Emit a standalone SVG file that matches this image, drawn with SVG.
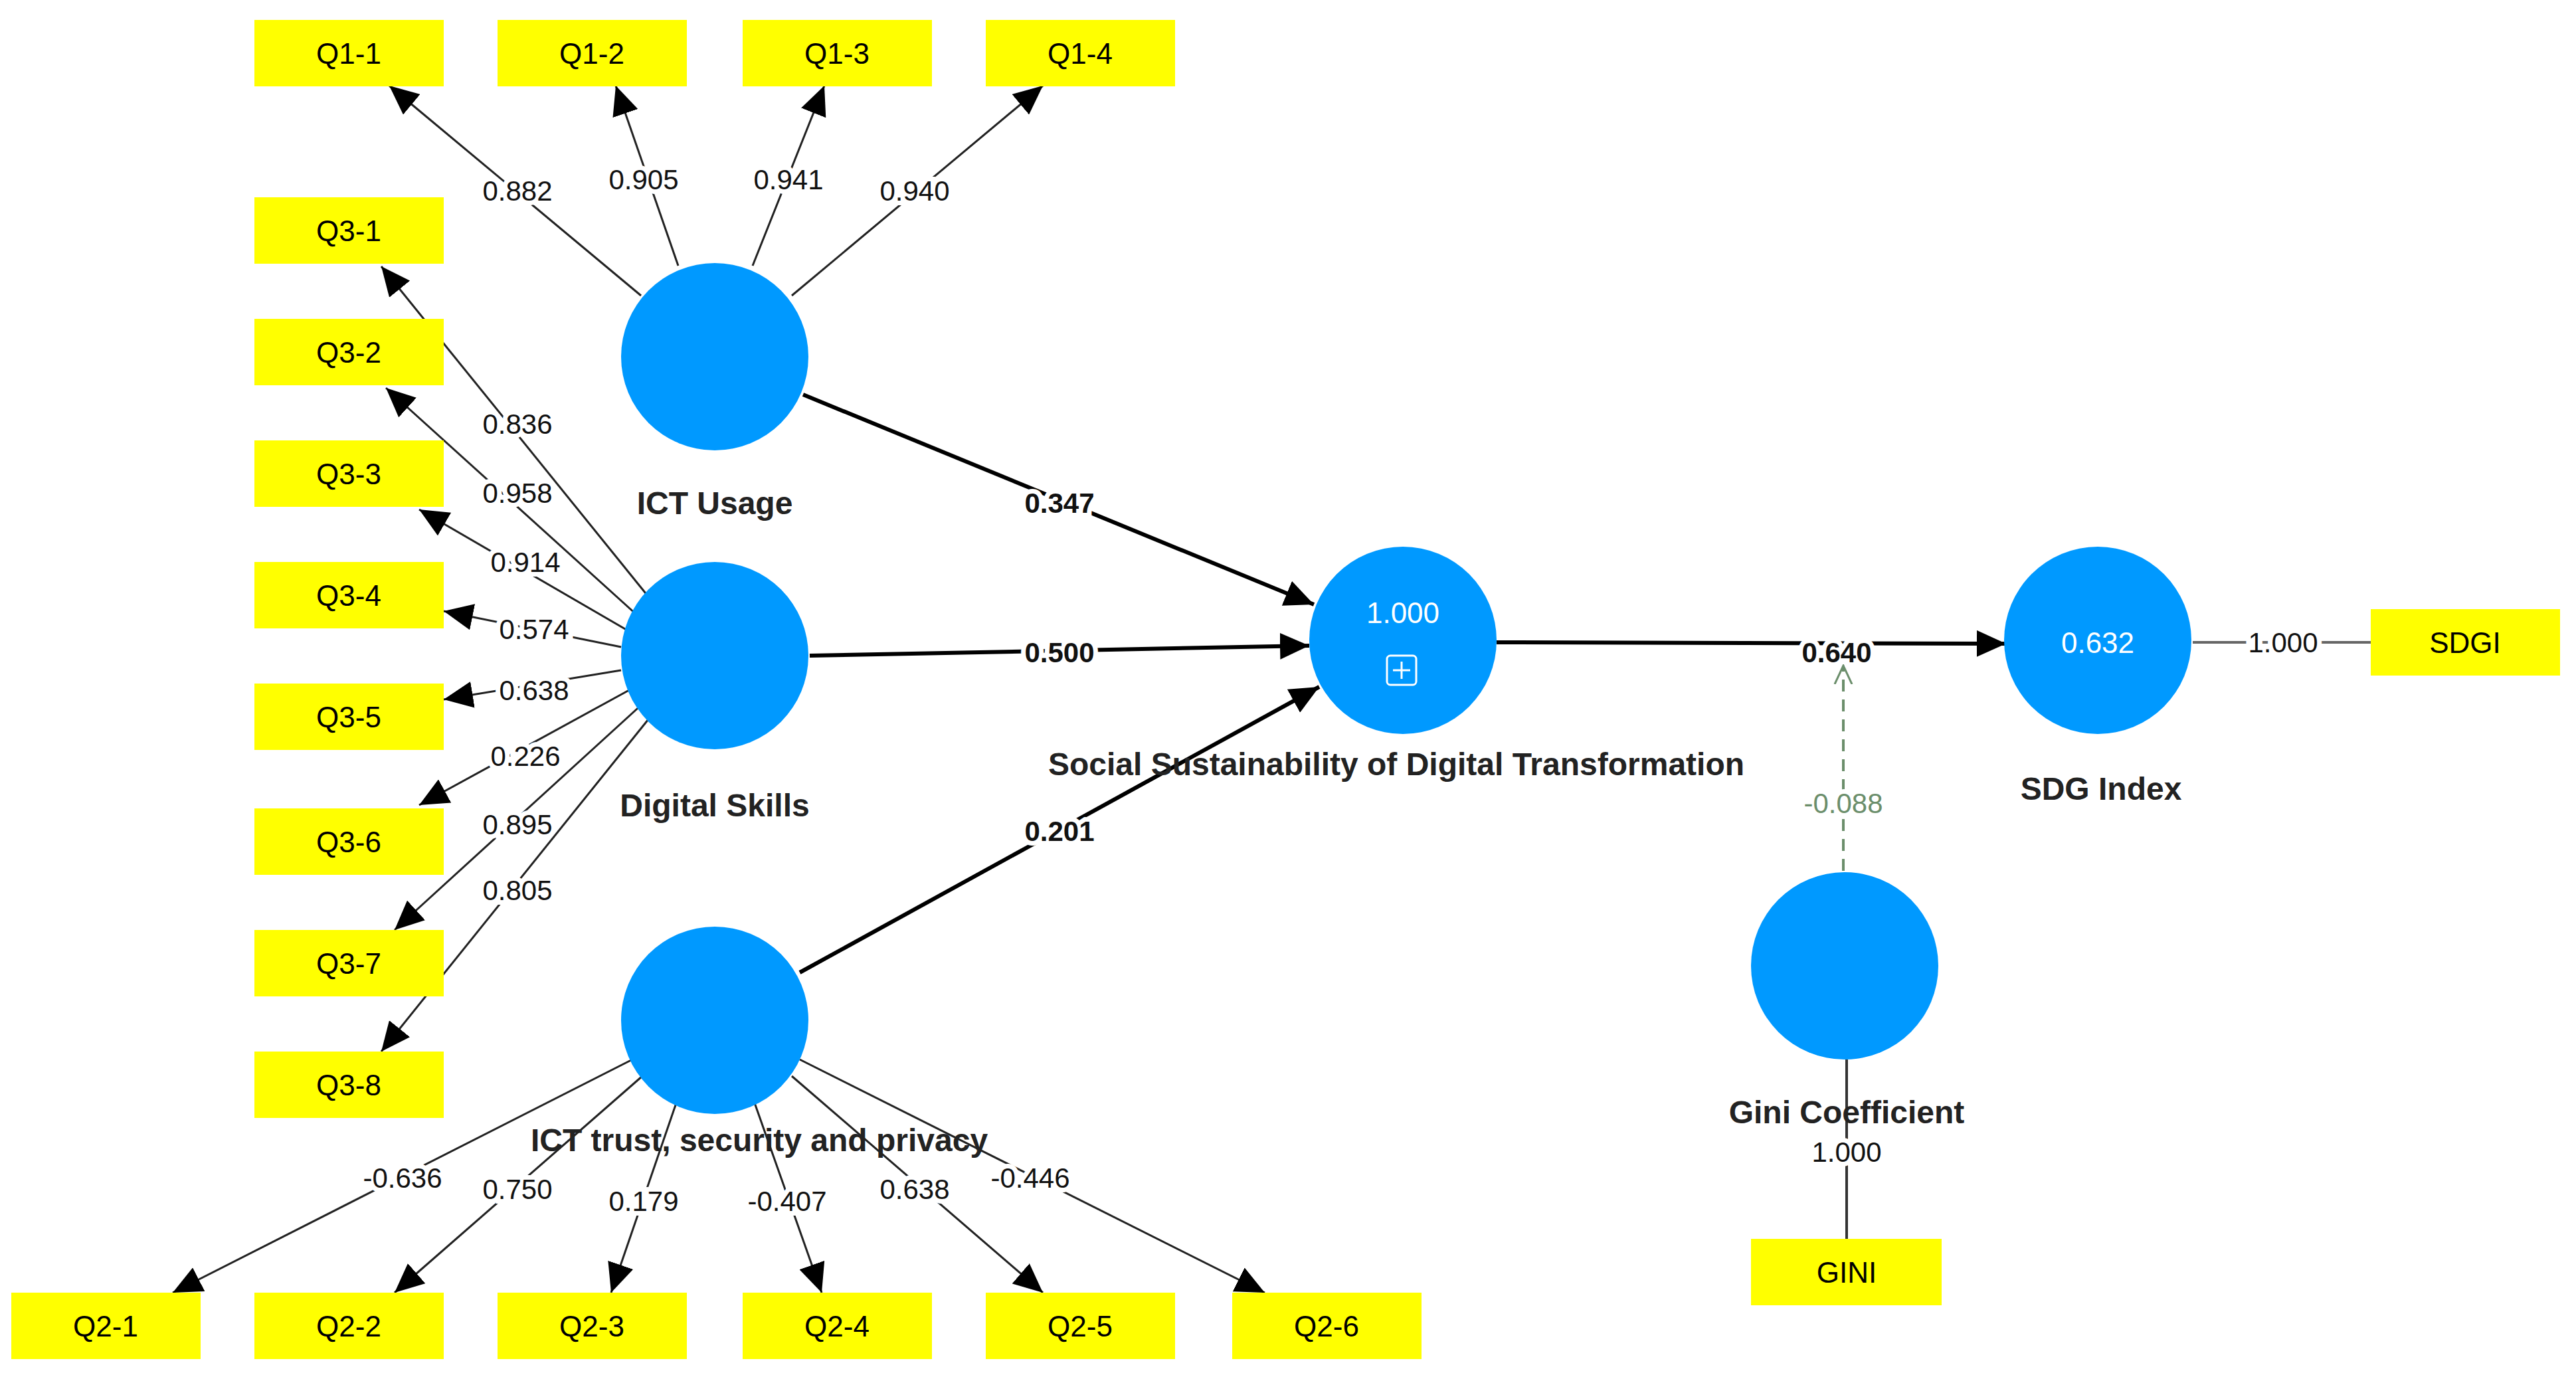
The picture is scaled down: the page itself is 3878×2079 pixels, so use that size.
<svg xmlns="http://www.w3.org/2000/svg" width="3878" height="2079" viewBox="0 0 3878 2079">
<style>
.box{fill:#ffff00}
.bt{font-family:"Liberation Sans",Arial,sans-serif;font-size:44px;fill:#000;text-anchor:middle;dominant-baseline:central}
.lv{fill:#0099ff}
.ln{font-family:"Liberation Sans",Arial,sans-serif;font-size:48px;font-weight:bold;fill:#222;text-anchor:middle;dominant-baseline:central}
.ld{stroke:#222;stroke-width:3;fill:none}
.st{stroke:#000;stroke-width:6;fill:none}
.lb{font-family:"Liberation Sans",Arial,sans-serif;font-size:42px;fill:#111;text-anchor:middle;dominant-baseline:central;paint-order:stroke;stroke:#fff;stroke-width:14}
.sb{font-weight:bold}
</style>
<defs>
<marker id="a" markerUnits="userSpaceOnUse" markerWidth="44" markerHeight="40" refX="44" refY="20" orient="auto"><path d="M0,0 L44,20 L0,40 Z" fill="#000"/></marker>
<marker id="o" markerUnits="userSpaceOnUse" markerWidth="30" markerHeight="30" refX="28" refY="15" orient="auto"><path d="M0,2 L28,15 L0,28" fill="none" stroke="#6b8e6b" stroke-width="3"/></marker>
</defs>
<rect width="3878" height="2079" fill="#fff"/>
<g id="connectors">
<line class="ld" x1="965" y1="445" x2="586" y2="129" marker-end="url(#a)"/>
<line class="ld" x1="1021" y1="400" x2="927" y2="129" marker-end="url(#a)"/>
<line class="ld" x1="1133" y1="400" x2="1241" y2="129" marker-end="url(#a)"/>
<line class="ld" x1="1192" y1="445" x2="1570" y2="129" marker-end="url(#a)"/>
<line class="ld" x1="984" y1="908" x2="574" y2="401" marker-end="url(#a)"/>
<line class="ld" x1="969" y1="935" x2="581" y2="584" marker-end="url(#a)"/>
<line class="ld" x1="955" y1="955" x2="631" y2="767" marker-end="url(#a)"/>
<line class="ld" x1="935" y1="974" x2="668" y2="920" marker-end="url(#a)"/>
<line class="ld" x1="935" y1="1009" x2="668" y2="1053" marker-end="url(#a)"/>
<line class="ld" x1="947" y1="1039" x2="631" y2="1212" marker-end="url(#a)"/>
<line class="ld" x1="969" y1="1058" x2="594" y2="1400" marker-end="url(#a)"/>
<line class="ld" x1="984" y1="1073" x2="574" y2="1583" marker-end="url(#a)"/>
<line class="ld" x1="952" y1="1595" x2="260" y2="1946" marker-end="url(#a)"/>
<line class="ld" x1="967" y1="1620" x2="594" y2="1946" marker-end="url(#a)"/>
<line class="ld" x1="1021" y1="1652" x2="920" y2="1946" marker-end="url(#a)"/>
<line class="ld" x1="1133" y1="1652" x2="1237" y2="1946" marker-end="url(#a)"/>
<line class="ld" x1="1192" y1="1620" x2="1570" y2="1946" marker-end="url(#a)"/>
<line class="ld" x1="1204" y1="1595" x2="1904" y2="1946" marker-end="url(#a)"/>
<line class="st" x1="1209" y1="594" x2="1978" y2="910" marker-end="url(#a)"/>
<line class="st" x1="1219" y1="987" x2="1971" y2="972" marker-end="url(#a)"/>
<line class="st" x1="1204" y1="1464" x2="1986" y2="1034" marker-end="url(#a)"/>
<line class="st" x1="2253" y1="967" x2="3020" y2="969" marker-end="url(#a)"/>
<line x1="2775" y1="1311" x2="2775" y2="1002" stroke="#6b8e6b" stroke-width="4" stroke-dasharray="18,12" marker-end="url(#o)"/>
<line x1="3301" y1="967" x2="3569" y2="967" stroke="#666" stroke-width="4"/>
<line x1="2780" y1="1595" x2="2780" y2="1865" stroke="#333" stroke-width="4"/>
<text class="lb" x="779" y="287">0.882</text>
<text class="lb" x="969" y="270">0.905</text>
<text class="lb" x="1187" y="270">0.941</text>
<text class="lb" x="1377" y="287">0.940</text>
<text class="lb" x="779" y="638">0.836</text>
<text class="lb" x="779" y="742">0.958</text>
<text class="lb" x="791" y="846">0.914</text>
<text class="lb" x="804" y="947">0.574</text>
<text class="lb" x="804" y="1039">0.638</text>
<text class="lb" x="791" y="1138">0.226</text>
<text class="lb" x="779" y="1241">0.895</text>
<text class="lb" x="779" y="1340">0.805</text>
<text class="lb" x="606" y="1773">-0.636</text>
<text class="lb" x="779" y="1790">0.750</text>
<text class="lb" x="969" y="1808">0.179</text>
<text class="lb" x="1185" y="1808">-0.407</text>
<text class="lb" x="1377" y="1790">0.638</text>
<text class="lb" x="1551" y="1773">-0.446</text>
<text class="lb sb" x="1595" y="757">0.347</text>
<text class="lb sb" x="1595" y="982">0.500</text>
<text class="lb sb" x="1595" y="1251">0.201</text>
<text class="lb sb" x="2765" y="982">0.640</text>
<text class="lb" x="2775" y="1209" style="fill:#6b8e6b">-0.088</text>
<text class="lb" x="3437" y="967">1.000</text>
<text class="lb" x="2780" y="1734">1.000</text>
</g>
<g id="Q1-1"><rect class="box" x="383" y="30" width="285" height="100"/><text class="bt" x="525" y="80">Q1-1</text></g>
<g id="Q1-2"><rect class="box" x="749" y="30" width="285" height="100"/><text class="bt" x="891" y="80">Q1-2</text></g>
<g id="Q1-3"><rect class="box" x="1118" y="30" width="285" height="100"/><text class="bt" x="1260" y="80">Q1-3</text></g>
<g id="Q1-4"><rect class="box" x="1484" y="30" width="285" height="100"/><text class="bt" x="1626" y="80">Q1-4</text></g>
<g id="Q3-1"><rect class="box" x="383" y="297" width="285" height="100"/><text class="bt" x="525" y="347">Q3-1</text></g>
<g id="Q3-2"><rect class="box" x="383" y="480" width="285" height="100"/><text class="bt" x="525" y="530">Q3-2</text></g>
<g id="Q3-3"><rect class="box" x="383" y="663" width="285" height="100"/><text class="bt" x="525" y="713">Q3-3</text></g>
<g id="Q3-4"><rect class="box" x="383" y="846" width="285" height="100"/><text class="bt" x="525" y="896">Q3-4</text></g>
<g id="Q3-5"><rect class="box" x="383" y="1029" width="285" height="100"/><text class="bt" x="525" y="1079">Q3-5</text></g>
<g id="Q3-6"><rect class="box" x="383" y="1217" width="285" height="100"/><text class="bt" x="525" y="1267">Q3-6</text></g>
<g id="Q3-7"><rect class="box" x="383" y="1400" width="285" height="100"/><text class="bt" x="525" y="1450">Q3-7</text></g>
<g id="Q3-8"><rect class="box" x="383" y="1583" width="285" height="100"/><text class="bt" x="525" y="1633">Q3-8</text></g>
<g id="Q2-1"><rect class="box" x="17" y="1946" width="285" height="100"/><text class="bt" x="159" y="1996">Q2-1</text></g>
<g id="Q2-2"><rect class="box" x="383" y="1946" width="285" height="100"/><text class="bt" x="525" y="1996">Q2-2</text></g>
<g id="Q2-3"><rect class="box" x="749" y="1946" width="285" height="100"/><text class="bt" x="891" y="1996">Q2-3</text></g>
<g id="Q2-4"><rect class="box" x="1118" y="1946" width="285" height="100"/><text class="bt" x="1260" y="1996">Q2-4</text></g>
<g id="Q2-5"><rect class="box" x="1484" y="1946" width="285" height="100"/><text class="bt" x="1626" y="1996">Q2-5</text></g>
<g id="Q2-6"><rect class="box" x="1855" y="1946" width="285" height="100"/><text class="bt" x="1997" y="1996">Q2-6</text></g>
<g id="GINI"><rect class="box" x="2636" y="1865" width="287" height="100"/><text class="bt" x="2780" y="1915">GINI</text></g>
<g id="SDGI"><rect class="box" x="3569" y="917" width="285" height="100"/><text class="bt" x="3711" y="967">SDGI</text></g>
<g id="ICT-Usage"><circle class="lv" cx="1076" cy="537" r="141"/><text class="ln" x="1076" y="757">ICT Usage</text></g>
<g id="Digital-Skills"><circle class="lv" cx="1076" cy="987" r="141"/><text class="ln" x="1076" y="1212">Digital Skills</text></g>
<g id="ICT-trust"><circle class="lv" cx="1076" cy="1536" r="141"/><text class="ln" x="1143" y="1716">ICT trust, security and privacy</text></g>
<g id="SSDT"><circle class="lv" cx="2112" cy="964" r="141"/><text class="bt" x="2112" y="922" style="fill:#fff">1.000</text><rect x="2088" y="987" width="44" height="44" rx="5" fill="none" stroke="#fff" stroke-width="3"/><path d="M2110,996 V1022 M2097,1009 H2123" stroke="#fff" stroke-width="3"/><text class="ln" x="2102" y="1150">Social Sustainability of Digital Transformation</text></g>
<g id="SDG-Index"><circle class="lv" cx="3158" cy="964" r="141"/><text class="bt" x="3158" y="967" style="fill:#fff">0.632</text><text class="ln" x="3163" y="1187">SDG Index</text></g>
<g id="Gini"><circle class="lv" cx="2777" cy="1454" r="141"/><text class="ln" x="2780" y="1674">Gini Coefficient</text></g>
</svg>
